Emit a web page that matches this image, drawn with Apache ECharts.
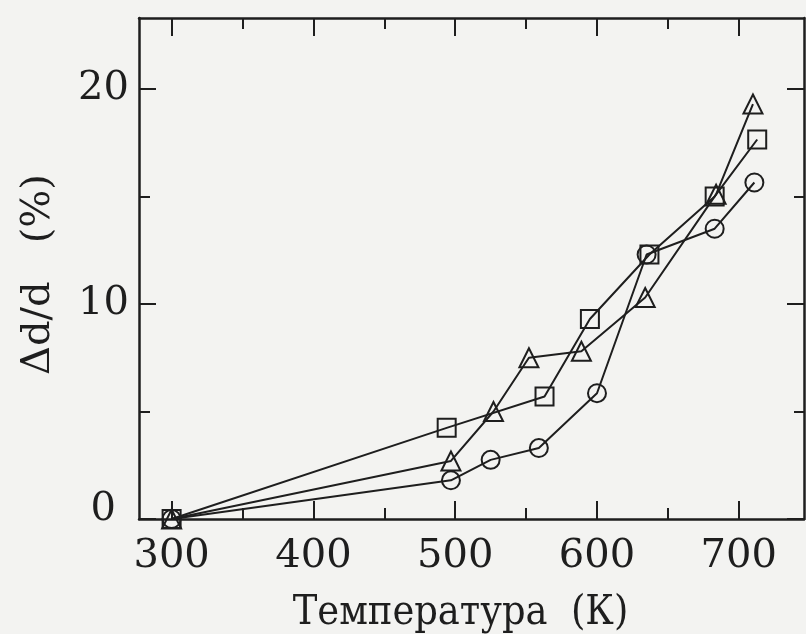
<!DOCTYPE html>
<html><head><meta charset="utf-8">
<script src="https://cdn.jsdelivr.net/npm/echarts@6/dist/echarts.min.js"></script>
<style>html,body{margin:0;padding:0;background:#f3f3f1}#c{width:806px;height:634px}</style>
</head><body><div id="c"></div>
<script>
const xMajorTicks = [300, 400, 500, 600, 700];
const xMinorTicks = [350, 450, 550, 650];
const yMajorTicks = [0, 10, 20];
const yMinorTicks = [5, 15];

const circleSeries = [[300, 0], [497, 1.8], [525, 2.75], [559, 3.3], [600, 5.85], [635, 12.3], [683, 13.5], [711, 15.65]];
const squareSeries = [[300, 0], [494, 4.24], [563, 5.7], [595, 9.3], [637, 12.3], [683, 15.0], [713, 17.65]];
const triangleSeries = [[300, 0], [497, 2.7], [527, 5.0], [552, 7.5], [589, 7.8], [634, 10.3], [684, 15.1], [710, 19.3]];

const xName = 'Температура  (К)';
const yName = 'Δd/d   (%)';

const ink = '#1e1e1e';
const font = 'DejaVu Serif';
const nameFont = 'DejaVu Serif Condensed, DejaVu Serif';
const xMin = 277, xMax = 746, yMin = 0, yMax = 23.3;

function xAx(grid, pos, ticks, len, labels, line) {
  return {
    type: 'value', gridIndex: grid, position: pos, min: xMin, max: xMax,
    axisLine: { show: line, onZero: false, lineStyle: { color: ink, width: 2.5 } },
    axisTick: { show: true, inside: true, length: len, customValues: ticks, lineStyle: { color: ink, width: 2 } },
    axisLabel: { show: labels, customValues: ticks, color: ink, fontFamily: font, fontSize: 40, margin: 18 },
    splitLine: { show: false }
  };
}
function yAx(grid, pos, ticks, len, labels, line) {
  return {
    type: 'value', gridIndex: grid, position: pos, min: yMin, max: yMax,
    axisLine: { show: line, onZero: false, lineStyle: { color: ink, width: 2.5 } },
    axisTick: { show: true, inside: true, length: len, customValues: ticks, lineStyle: { color: ink, width: 2 } },
    axisLabel: { show: labels, customValues: ticks, color: ink, fontFamily: font, fontSize: 40, margin: 10,
      formatter: v => (v === 0 ? '{z|0}' : String(v)),
      rich: { z: { fontFamily: font, fontSize: 40, color: ink, padding: [0, 13, 18, 0] } } },
    splitLine: { show: false }
  };
}

const xAxes = [
  xAx(0, 'bottom', xMajorTicks, 18, true, true),
  xAx(0, 'top', xMajorTicks, 18, false, true),
  xAx(1, 'bottom', xMinorTicks, 11, false, false),
  xAx(1, 'top', xMinorTicks, 11, false, false)
];
Object.assign(xAxes[0], { name: xName, nameLocation: 'middle', nameGap: 74,
  nameTextStyle: { color: ink, fontFamily: nameFont, fontSize: 41, padding: [0, 22, 0, 0] } });
const yAxes = [
  yAx(0, 'left', yMajorTicks, 17, true, true),
  yAx(0, 'right', yMajorTicks, 17, false, true),
  yAx(1, 'left', yMinorTicks, 11, false, false),
  yAx(1, 'right', yMinorTicks, 10, false, false)
];
Object.assign(yAxes[0], { name: yName, nameLocation: 'middle', nameGap: 80, nameRotate: 90,
  nameTextStyle: { color: ink, fontFamily: font, fontSize: 40, padding: [0, 12, 0, 0] } });

function ser(data, symbol) {
  return {
    type: 'line', data: data, xAxisIndex: 0, yAxisIndex: 0,
    symbol: symbol, symbolSize: symbol === 'triangle' ? 19 : 18,
    lineStyle: { color: ink, width: 2 },
    itemStyle: { color: 'rgba(0,0,0,0)', borderColor: ink, borderWidth: 2 },
    emphasis: { disabled: true }, animation: false, z: 3
  };
}

const g = { left: 139, top: 18, right: 2, bottom: 115, containLabel: false, outerBoundsMode: 'none' };
const chart = echarts.init(document.getElementById('c'));
chart.setOption({
  backgroundColor: '#f3f3f1',
  animation: false,
  grid: [Object.assign({}, g), Object.assign({}, g)],
  xAxis: xAxes,
  yAxis: yAxes,
  series: [ser(circleSeries, 'circle'), ser(squareSeries, 'rect'), ser(triangleSeries, 'triangle')]
});
</script></body></html>
